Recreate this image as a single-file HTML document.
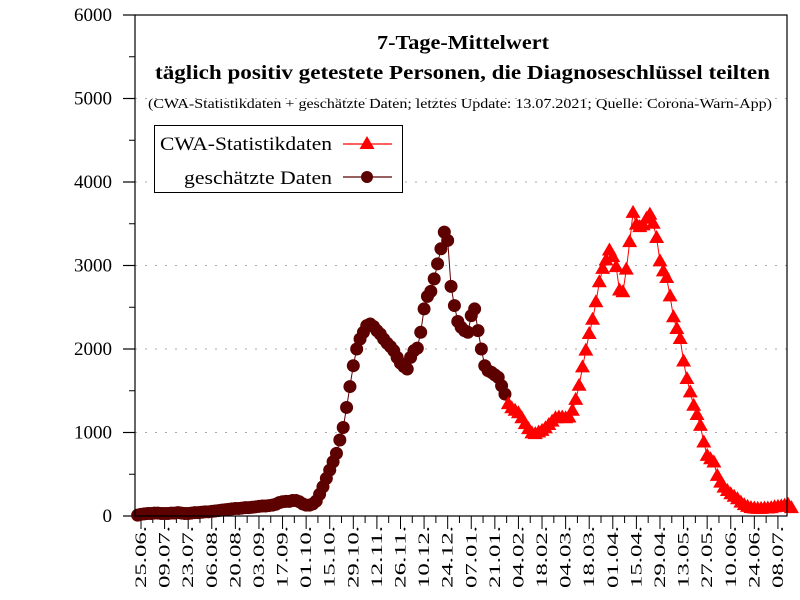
<!DOCTYPE html>
<html><head><meta charset="utf-8"><style>
html,body{margin:0;padding:0;background:#fff}
svg{display:block;font-family:"Liberation Serif",serif}
</style></head><body>
<svg id="chart" width="800" height="600" viewBox="0 0 800 600">
<rect x="0" y="0" width="800" height="600" fill="#fff"/>
<g id="grid"></g>
<g id="yaxis"></g>
<g id="xaxis"></g>
<g id="series"></g>
<rect x="135" y="15" width="652" height="501" fill="none" stroke="#000" stroke-width="1.2"/>
<text x="377" y="49" textLength="172" lengthAdjust="spacingAndGlyphs" font-size="20" font-weight="bold">7-Tage-Mittelwert</text>
<text x="155" y="79" textLength="615" lengthAdjust="spacingAndGlyphs" font-size="20" font-weight="bold">täglich positiv getestete Personen, die Diagnoseschlüssel teilten</text>
<text x="148" y="108" textLength="624" lengthAdjust="spacingAndGlyphs" font-size="14">(CWA-Statistikdaten + geschätzte Daten; letztes Update: 13.07.2021; Quelle: Corona-Warn-App)</text>
<g>
<rect x="154.5" y="125.5" width="248" height="67" fill="#fff" stroke="#000" stroke-width="1"/>
<g>
<text x="160" y="150" textLength="172" lengthAdjust="spacingAndGlyphs" font-size="19">CWA-Statistikdaten</text>
<line x1="343" y1="144" x2="392" y2="144" stroke="#f00" stroke-width="1.2"/>
<polygon points="367,136 374.5,149 359.5,149" fill="#f00"/>
</g>
<g>
<text x="184" y="184" textLength="148" lengthAdjust="spacingAndGlyphs" font-size="19">geschätzte Daten</text>
<line x1="343" y1="177" x2="392" y2="177" stroke="#5c0000" stroke-width="1.2"/>
<circle cx="367" cy="177" r="6" fill="#5c0000"/>
</g>
</g>
</svg>
<script>
// data: days since 25.06.2020, 2-day steps
const estStartDay = -2;
const estValues = [10,20,25,30,30,35,35,30,30,30,35,35,40,35,30,30,35,40,40,45,50,50,55,60,65,70,75,80,85,90,90,95,100,100,105,110,115,120,120,125,130,140,160,170,175,175,185,185,170,145,130,130,145,180,260,350,450,550,650,750,910,1060,1300,1550,1800,2000,2120,2200,2280,2300,2270,2220,2180,2120,2070,2030,1980,1900,1830,1790,1760,1900,1980,2010,2200,2480,2630,2690,2840,3020,3200,3400,3300,2750,2520,2330,2260,2220,2200,2400,2480,2220,2000,1800,1740,1720,1690,1660,1560,1460];
const cwaStartDay = 218;
const cwaValues = [1340,1290,1260,1230,1170,1100,1040,990,980,1000,1020,1050,1090,1130,1170,1180,1180,1170,1180,1260,1390,1560,1780,1980,2180,2350,2560,2800,2960,3060,3180,3100,2980,2700,2680,2950,3280,3630,3490,3460,3480,3560,3610,3500,3330,3050,2930,2850,2630,2380,2240,2120,1850,1640,1480,1320,1210,1080,880,720,680,640,480,400,340,300,260,230,200,160,130,110,95,90,85,85,90,90,95,105,110,115,125,135,95];
const yTicks = [0,1000,2000,3000,4000,5000,6000];
const xTickLabels = ["25.06.","09.07.","23.07.","06.08.","20.08.","03.09.","17.09.","01.10.","15.10.","29.10.","12.11.","26.11.","10.12.","24.12.","07.01.","21.01.","04.02.","18.02.","04.03.","18.03.","01.04.","15.04.","29.04.","13.05.","27.05.","10.06.","24.06.","08.07."];

const NS="http://www.w3.org/2000/svg";
const X=d=>141+d*1.685;
const Y=v=>516-v*501/6000;
function mk(tag,attrs,parent){const e=document.createElementNS(NS,tag);for(const k in attrs)e.setAttribute(k,attrs[k]);parent.appendChild(e);return e;}
const grid=document.getElementById('grid'),ya=document.getElementById('yaxis'),xa=document.getElementById('xaxis'),ser=document.getElementById('series');

yTicks.forEach(v=>{
  if(v>0&&v<6000){const g=mk('line',{x1:135,x2:787,y1:Y(v),y2:Y(v),stroke:'#aaa','stroke-width':1,'stroke-dasharray':'2,8'},grid);
  
  }
  const t=mk('line',{x1:123,x2:135,y1:Y(v),y2:Y(v),stroke:'#000','stroke-width':1.2},ya);
  
  
  const l=mk('text',{x:112,y:Y(v)+6,'text-anchor':'end','font-size':19},ya);
  l.textContent=v;
  
  
  if(v<6000){const m=mk('line',{x1:129,x2:135,y1:Y(v+500),y2:Y(v+500),stroke:'#000','stroke-width':1},ya);
  
  }
});
for(let w=0;w<=54;w++){
  const x=X(w*7);
  if(x>787)break;
  const t=mk('line',{x1:x,x2:x,y1:516,y2:w%2==0?529:523,stroke:'#000','stroke-width':1},xa);
  
  
}
xTickLabels.forEach((s,i)=>{
  const x=X(i*14)+5;
  const l=mk('text',{x:0,y:0,'font-size':16,textLength:62,lengthAdjust:'spacingAndGlyphs',transform:`translate(${x},588) rotate(-90)`},xa);
  l.textContent=s;
  
  
});

function drawLine(start,vals,color,name){
  const pts=vals.map((v,i)=>X(start+i*2).toFixed(1)+','+Y(v).toFixed(1)).join(' ');
  const p=mk('polyline',{points:pts,fill:'none',stroke:color,'stroke-width':1},ser);
  
  
}
drawLine(estStartDay,estValues,'#5c0000','estimated');
estValues.forEach((v,i)=>{
  const c=mk('circle',{cx:X(estStartDay+i*2),cy:Y(v),r:6.5,fill:'#5c0000'},ser);
  
  
});
drawLine(cwaStartDay,cwaValues,'#f00','cwa');
cwaValues.forEach((v,i)=>{
  const x=X(cwaStartDay+i*2),y=Y(v);
  const p=mk('polygon',{points:`${x},${y-8} ${x+7.5},${y+5} ${x-7.5},${y+5}`,fill:'#f00'},ser);
  
  
});
</script>
</body></html>
